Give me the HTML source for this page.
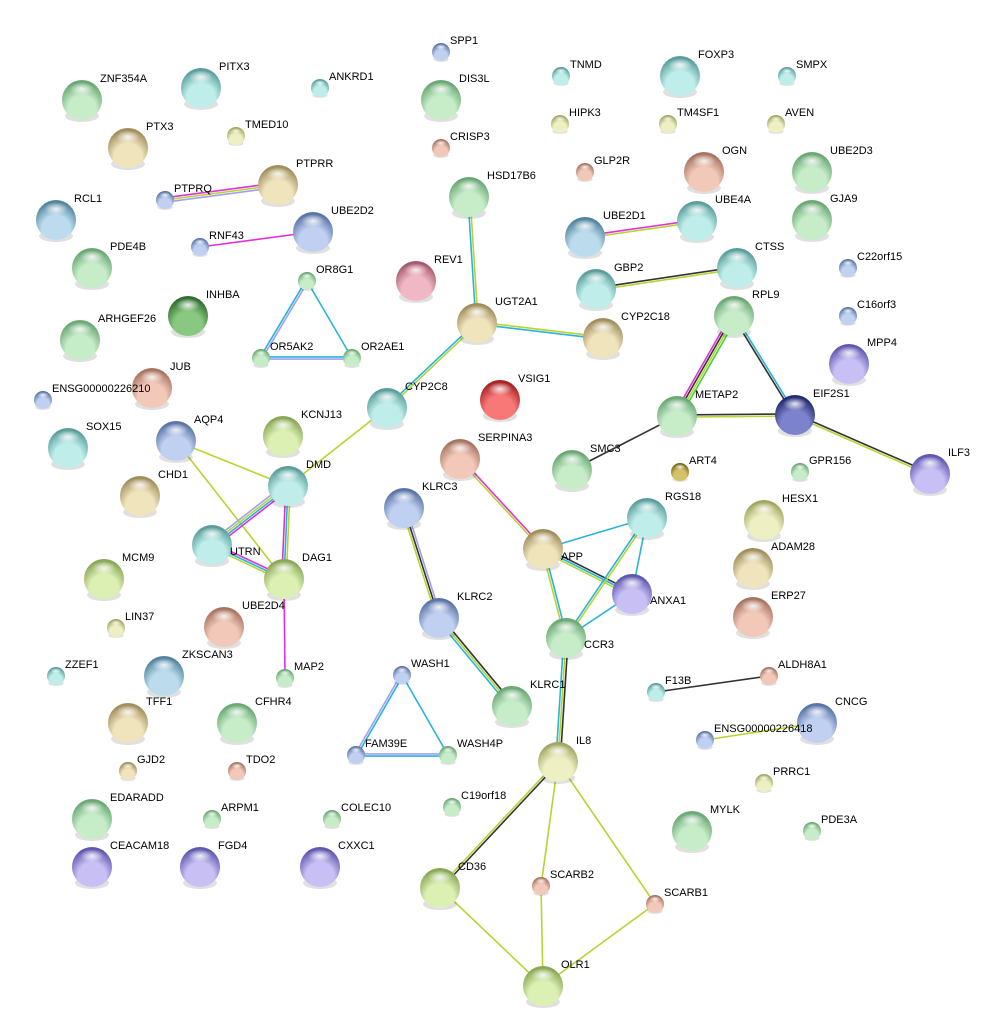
<!DOCTYPE html>
<html><head><meta charset="utf-8">
<style>
html,body{margin:0;padding:0;background:#fff;}
svg{display:block;}
text{font-family:"Liberation Sans",sans-serif;font-size:11px;fill:#000;}
</style></head>
<body>
<svg id="s" width="1001" height="1032" viewBox="0 0 1001 1032" xmlns="http://www.w3.org/2000/svg">
<defs id="d"></defs>
<g id="e"></g>
<g id="n"></g>
</svg>
<script>
var C={
g:['#c6ecc8','#6aa874'],t:['#bfeeea','#5a9e9c'],b:['#c0d0f0','#5a74a8'],tn:['#f0e4bc','#a08e5c'],
s:['#f2c8b8','#a87462'],y:['#eef0c4','#a2a660'],yg:['#dcf0b4','#88a856'],p:['#c8c0f4','#6058b0'],
r:['#f87878','#a82424'],dg:['#88c880','#2f6e30'],db:['#7c82cc','#222a70'],o:['#d4c268','#786818'],
pk:['#f0b8c4','#a8586c'],tb:['#bcdcee','#52849e']};
var d=document.getElementById('d'),h='<radialGradient id="HL" cx="50%" cy="50%" r="50%"><stop offset="0" stop-color="#fff" stop-opacity="0.85"/><stop offset="1" stop-color="#fff" stop-opacity="0"/></radialGradient>';
for(var k in C){h+='<radialGradient id="G'+k+'" cx="50%" cy="70%" r="65%" fx="50%" fy="80%"><stop offset="0" stop-color="'+C[k][0]+'"/><stop offset="0.55" stop-color="'+C[k][0]+'"/><stop offset="1" stop-color="'+C[k][1]+'"/></radialGradient>';}
d.innerHTML=h;
var B=20,S=9;
var N={
ZNF354A:[82,100,B,'g'],PITX3:[201,88,B,'t'],ANKRD1:[320,88,S,'t'],SPP1:[441,52,S,'b'],DIS3L:[441,100,B,'g'],
TNMD:[561,76,S,'t'],FOXP3:[680,76,B,'t'],SMPX:[787,76,S,'t'],PTX3:[128,148,B,'tn'],TMED10:[236,136,S,'y'],
HIPK3:[560,124,S,'y'],TM4SF1:[668,124,S,'y'],AVEN:[776,124,S,'y'],CRISP3:[441,148,S,'s'],GLP2R:[585,172,S,'s'],
OGN:[704,172,B,'s'],UBE2D3:[812,172,B,'g'],PTPRQ:[165,200,S,'b'],PTPRR:[278,185,B,'tn'],HSD17B6:[469,197,B,'g'],
RCL1:[56,220,B,'tb'],UBE2D2:[313,232,B,'b'],UBE2D1:[585,237,B,'tb'],UBE4A:[697,221,B,'t'],GJA9:[812,220,B,'g'],
RNF43:[200,247,S,'b'],C22orf15:[848,268,S,'b'],PDE4B:[92,268,B,'g'],OR8G1:[307,281,S,'g'],REV1:[416,281,B,'pk'],
GBP2:[596,289,B,'t'],CTSS:[737,268,B,'t'],INHBA:[188,316,B,'dg'],C16orf3:[848,316,S,'b'],RPL9:[734,316,B,'g'],
UGT2A1:[477,323,B,'tn'],CYP2C18:[603,338,B,'tn'],ARHGEF26:[80,340,B,'g'],OR5AK2:[261,358,S,'g'],OR2AE1:[352,358,S,'g'],
MPP4:[849,364,B,'p'],JUB:[152,388,B,'s'],ENSG00000226210:[43,400,S,'b'],VSIG1:[500,400,B,'r'],CYP2C8:[387,408,B,'t'],
METAP2:[677,416,B,'g'],EIF2S1:[795,415,B,'db'],SOX15:[68,448,B,'t'],AQP4:[176,441,B,'b'],KCNJ13:[283,436,B,'yg'],
SERPINA3:[460,459,B,'s'],SMC3:[572,470,B,'g'],ART4:[680,472,S,'o'],GPR156:[800,472,S,'g'],ILF3:[930,474,B,'p'],
DMD:[288,486,B,'t'],CHD1:[140,496,B,'tn'],KLRC3:[404,508,B,'b'],RGS18:[647,518,B,'t'],HESX1:[764,520,B,'y'],
UTRN:[212,545,B,'t'],APP:[543,549,B,'tn'],DAG1:[284,579,B,'yg'],MCM9:[104,579,B,'yg'],ADAM28:[753,568,B,'tn'],
ANXA1:[632,594,B,'p'],LIN37:[116,628,S,'y'],UBE2D4:[224,627,B,'s'],KLRC2:[439,618,B,'b'],ERP27:[753,617,B,'s'],
CCR3:[566,638,B,'g'],ZZEF1:[56,676,S,'t'],ZKSCAN3:[164,676,B,'tb'],MAP2:[285,678,S,'g'],WASH1:[402,675,S,'b'],
ALDH8A1:[769,676,S,'s'],F13B:[656,692,S,'t'],KLRC1:[512,706,B,'g'],TFF1:[128,723,B,'tn'],CFHR4:[237,723,B,'g'],
CNCG:[817,723,B,'b'],ENSG00000226418:[705,740,S,'b'],FAM39E:[356,755,S,'b'],WASH4P:[448,755,S,'g'],IL8:[558,762,B,'y'],
GJD2:[128,771,S,'tn'],TDO2:[237,771,S,'s'],PRRC1:[764,783,S,'y'],EDARADD:[92,819,B,'g'],ARPM1:[212,819,S,'g'],
COLEC10:[332,819,S,'g'],C19orf18:[452,807,S,'g'],MYLK:[692,831,B,'g'],PDE3A:[812,831,S,'g'],CEACAM18:[92,867,B,'p'],
FGD4:[200,867,B,'p'],CXXC1:[320,867,B,'p'],CD36:[440,888,B,'yg'],SCARB2:[541,886,S,'s'],SCARB1:[655,904,S,'s'],
OLR1:[543,986,B,'yg']};
var LB={UTRN:[230,555],APP:[561,560],ANXA1:[650,604],CCR3:[584,648]};
var K='#333',Y='#b8d432',Cy='#28b4d8',M='#e030d8',P='#a0a0f0',Gr='#40d040';
var E=[
['PTPRQ','PTPRR',[M,Y,P]],['RNF43','UBE2D2',[M]],['OR8G1','OR5AK2',[P,Cy]],['OR8G1','OR2AE1',[Cy]],['OR5AK2','OR2AE1',[Cy,P]],
['HSD17B6','UGT2A1',[Y,Cy]],['UGT2A1','CYP2C18',[Y,Cy]],['UGT2A1','CYP2C8',[Y,Cy]],['UBE2D1','UBE4A',[M,Y]],['GBP2','CTSS',[K,Y]],
['RPL9','METAP2',[Gr,Y,K,M]],['RPL9','EIF2S1',[Cy,K]],['METAP2','EIF2S1',[K,Y]],['METAP2','SMC3',[K]],['EIF2S1','ILF3',[K,Y]],
['CYP2C8','DMD',[Y]],['AQP4','DMD',[Y]],['AQP4','DAG1',[Y]],['DMD','UTRN',[M,Cy,Y,P]],['DMD','DAG1',[Y,Cy,M]],['UTRN','DAG1',[M,Cy,Y]],
['DAG1','MAP2',[M]],['SERPINA3','APP',[M,Y]],['KLRC3','KLRC2',[P,K,Y]],['KLRC2','KLRC1',[K,Y,Cy]],['APP','RGS18',[Cy]],
['APP','ANXA1',[K,Cy,Y]],['APP','CCR3',[Cy,Y]],['RGS18','CCR3',[Y,Cy]],['RGS18','ANXA1',[Cy]],['ANXA1','CCR3',[Cy]],
['CCR3','IL8',[K,Y,Cy]],['WASH1','FAM39E',[Cy,P]],['WASH1','WASH4P',[Cy]],['FAM39E','WASH4P',[P,Cy]],['F13B','ALDH8A1',[K]],
['ENSG00000226418','CNCG',[Y]],['IL8','CD36',[K,Y]],['IL8','SCARB2',[Y]],['IL8','SCARB1',[Y]],['CD36','OLR1',[Y]],
['SCARB2','OLR1',[Y]],['SCARB1','OLR1',[Y]]];
var eh='';
E.forEach(function(e){var a=N[e[0]],b=N[e[1]],cs=e[2];var dx=b[0]-a[0],dy=b[1]-a[1],L=Math.sqrt(dx*dx+dy*dy),px=-dy/L,py=dx/L,n=cs.length;
cs.forEach(function(c,i){var o=(i-(n-1)/2)*2.2;eh+='<line x1="'+(a[0]+px*o)+'" y1="'+(a[1]+py*o)+'" x2="'+(b[0]+px*o)+'" y2="'+(b[1]+py*o)+'" stroke="'+c+'" stroke-width="1.6"/>';});});
document.getElementById('e').innerHTML=eh;
var nh='';
for(var k in N){var v=N[k],x=v[0],y=v[1],r=v[2];
nh+='<ellipse cx="'+x+'" cy="'+(y+r*0.8)+'" rx="'+(r*0.85)+'" ry="'+(r*0.3)+'" fill="#000" opacity="0.12"/>';
nh+='<circle cx="'+x+'" cy="'+y+'" r="'+r+'" fill="url(#G'+v[3]+')"/>';
nh+='<ellipse cx="'+x+'" cy="'+(y-r*0.55)+'" rx="'+(r*0.6)+'" ry="'+(r*0.33)+'" fill="url(#HL)"/>';
var lx,ly;if(LB[k]){lx=LB[k][0];ly=LB[k][1];}else if(r==B){lx=x+18;ly=y-18;}else{lx=x+9;ly=y-8;}
nh+='<text x="'+lx+'" y="'+ly+'">'+k+'</text>';}
document.getElementById('n').innerHTML=nh;
</script>
</body></html>
